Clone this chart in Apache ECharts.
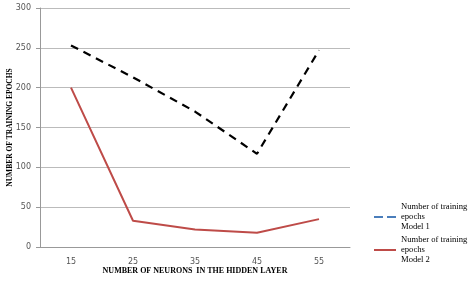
<!DOCTYPE html>
<html>
<head>
<meta charset="UTF-8">
<script src="https://cdn.jsdelivr.net/npm/echarts@6/dist/echarts.min.js"></script>
<style>
  html, body { margin: 0; padding: 0; background: #fff; }
  #main { width: 475px; height: 281px; }
</style>
</head>
<body>
<div id="main"></div>
<script>
var neurons = ['15', '25', '35', '45', '55'];
var model1 = [253, 213, 170, 117, 247];
var model2 = [200, 33, 22, 18, 35];
var name1 = 'Number of training epochs Model 1';
var name2 = 'Number of training epochs Model 2';

var chart = echarts.init(document.getElementById('main'));
var serif = '"Liberation Serif", "DejaVu Serif", serif';

chart.setOption({
  animation: false,
  grid: { left: 40, right: 125, top: 8, bottom: 34, outerBoundsMode: 'none', containLabel: false },
  legend: {
    orient: 'vertical',
    left: 369,
    top: 197,
    itemWidth: 22,
    itemHeight: 10,
    itemGap: 3,
    align: 'left',
    textStyle: { fontFamily: serif, fontSize: 8.6, color: '#000', lineHeight: 10 },
    formatter: function (n) {
      return n.replace(' epochs ', '\nepochs\n').replace('training epochs', 'training');
    },
    data: [
      { name: name1, icon: 'path://M0,0H9V2H0ZM13,0H22V2H13Z', itemStyle: { color: '#4a7ebb' } },
      { name: name2, icon: 'path://M0,0H22V2H0Z', itemStyle: { color: '#be4b48' } }
    ]
  },
  xAxis: {
    type: 'category',
    data: neurons,
    boundaryGap: true,
    name: 'NUMBER OF NEURONS  IN THE HIDDEN LAYER',
    nameLocation: 'middle',
    nameGap: 20,
    nameMoveOverlap: false,
    nameTextStyle: { fontFamily: serif, fontSize: 8, fontWeight: 'bold', color: '#000' },
    axisLine: { lineStyle: { color: '#999' } },
    axisTick: { length: 4, lineStyle: { color: '#999' } },
    axisLabel: { margin: 11, fontFamily: 'DejaVu Sans', fontSize: 8, color: '#555' }
  },
  yAxis: {
    type: 'value',
    min: 0,
    max: 300,
    interval: 50,
    name: 'NUMBER OF TRAINING EPOCHS',
    nameLocation: 'middle',
    nameGap: 26,
    nameMoveOverlap: false,
    nameTextStyle: { fontFamily: serif, fontSize: 7.5, fontWeight: 'bold', color: '#000' },
    axisLine: { show: true, lineStyle: { color: '#999' } },
    axisTick: { show: true, length: 4, lineStyle: { color: '#999' } },
    splitLine: { lineStyle: { color: '#bbb' } },
    axisLabel: { margin: 9, fontFamily: 'DejaVu Sans', fontSize: 8, color: '#555' }
  },
  series: [
    {
      name: name1,
      type: 'line',
      data: model1,
      symbol: 'none',
      itemStyle: { color: '#000' },
      lineStyle: { color: '#000', width: 2.2, type: [8, 6] }
    },
    {
      name: name2,
      type: 'line',
      data: model2,
      symbol: 'none',
      itemStyle: { color: '#be4b48' },
      lineStyle: { color: '#be4b48', width: 2 }
    }
  ]
});
</script>
</body>
</html>
